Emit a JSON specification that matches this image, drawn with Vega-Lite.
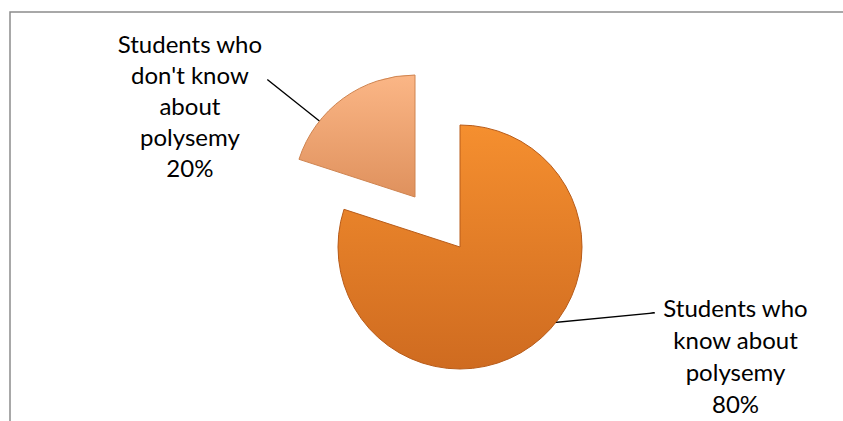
{
  "$schema": "https://vega.github.io/schema/vega-lite/v6.json",
  "autosize": "none",
  "width": 835,
  "height": 411,
  "padding": {"left": 10, "top": 12, "right": -2, "bottom": -2},
  "background": "white",
  "view": {"stroke": "#8c8c8c", "strokeWidth": 1.5},
  "data": {
    "values": [
      {"category": "Students who know about polysemy", "label": "Students who\nknow about\npolysemy", "value": 80},
      {"category": "Students who don't know about polysemy", "label": "Students who\ndon't know\nabout\npolysemy", "value": 20}
    ]
  },
  "transform": [
    {"stack": "value", "groupby": [], "sort": [{"field": "value", "order": "descending"}], "as": ["v0", "v1"]},
    {"calculate": "(datum.v0 + datum.v1) / 2", "as": "mid"},
    {"calculate": "datum.label + '\\n' + datum.value + '%'", "as": "text"}
  ],
  "layer": [
    {
      "transform": [{"filter": {"field": "category", "equal": "Students who don't know about polysemy"}}],
      "mark": {"type": "arc", "filled": false, "stroke": "#000000", "strokeWidth": 1.3, "theta": 5.384, "theta2": 5.3841, "innerRadius": 110, "outerRadius": 188, "xOffset": -12.5, "yOffset": -20.5},
      "encoding": {}
    },
    {
      "transform": [{"filter": {"field": "category", "equal": "Students who know about polysemy"}}],
      "mark": {"type": "arc", "filled": false, "stroke": "#000000", "strokeWidth": 1.3, "theta": 1.4748, "theta2": 1.4749, "innerRadius": 40, "outerRadius": 158, "xOffset": 69.5, "yOffset": 110.5},
      "encoding": {}
    },
    {
      "transform": [{"filter": {"field": "category", "equal": "Students who know about polysemy"}}],
      "mark": {
        "type": "arc",
        "outerRadius": 122,
        "xOffset": 32.5,
        "yOffset": 29.5,
        "fill": {"gradient": "linear", "x1": 0, "y1": 0, "x2": 0, "y2": 1, "stops": [{"offset": 0, "color": "#F58F2F"}, {"offset": 1, "color": "#CF6B20"}]},
        "stroke": "#B85C1A",
        "strokeWidth": 1
      },
      "encoding": {
        "theta": {"field": "v0", "type": "quantitative", "stack": null, "scale": {"domain": [0, 100], "range": [0, 6.2832]}},
        "theta2": {"field": "v1"}
      }
    },
    {
      "transform": [{"filter": {"field": "category", "equal": "Students who don't know about polysemy"}}],
      "mark": {
        "type": "arc",
        "outerRadius": 122,
        "xOffset": -12.5,
        "yOffset": -20.5,
        "fill": {"gradient": "linear", "x1": 0, "y1": 0, "x2": 0, "y2": 1, "stops": [{"offset": 0, "color": "#FBB686"}, {"offset": 1, "color": "#DF915D"}]},
        "stroke": "#CF8450",
        "strokeWidth": 1
      },
      "encoding": {
        "theta": {"field": "v0", "type": "quantitative", "stack": null, "scale": {"domain": [0, 100], "range": [0, 6.2832]}},
        "theta2": {"field": "v1"}
      }
    },
    {
      "transform": [{"filter": {"field": "category", "equal": "Students who know about polysemy"}}],
      "mark": {"type": "text", "radius": 137, "dx": 227.5, "dy": -18.5, "font": "Lato", "fontSize": 24, "lineHeight": 32, "lineBreak": "\n", "align": "center", "baseline": "middle", "color": "#000000"},
      "encoding": {
        "theta": {"field": "mid", "type": "quantitative", "stack": null, "scale": {"domain": [0, 100], "range": [0, 6.2832]}},
        "text": {"field": "text"}
      }
    },
    {
      "transform": [{"filter": {"field": "category", "equal": "Students who don't know about polysemy"}}],
      "mark": {"type": "text", "radius": 172, "dx": -136.5, "dy": -32.5, "font": "Lato", "fontSize": 24, "lineHeight": 31, "lineBreak": "\n", "align": "center", "baseline": "middle", "color": "#000000"},
      "encoding": {
        "theta": {"field": "mid", "type": "quantitative", "stack": null, "scale": {"domain": [0, 100], "range": [0, 6.2832]}},
        "text": {"field": "text"}
      }
    }
  ]
}
